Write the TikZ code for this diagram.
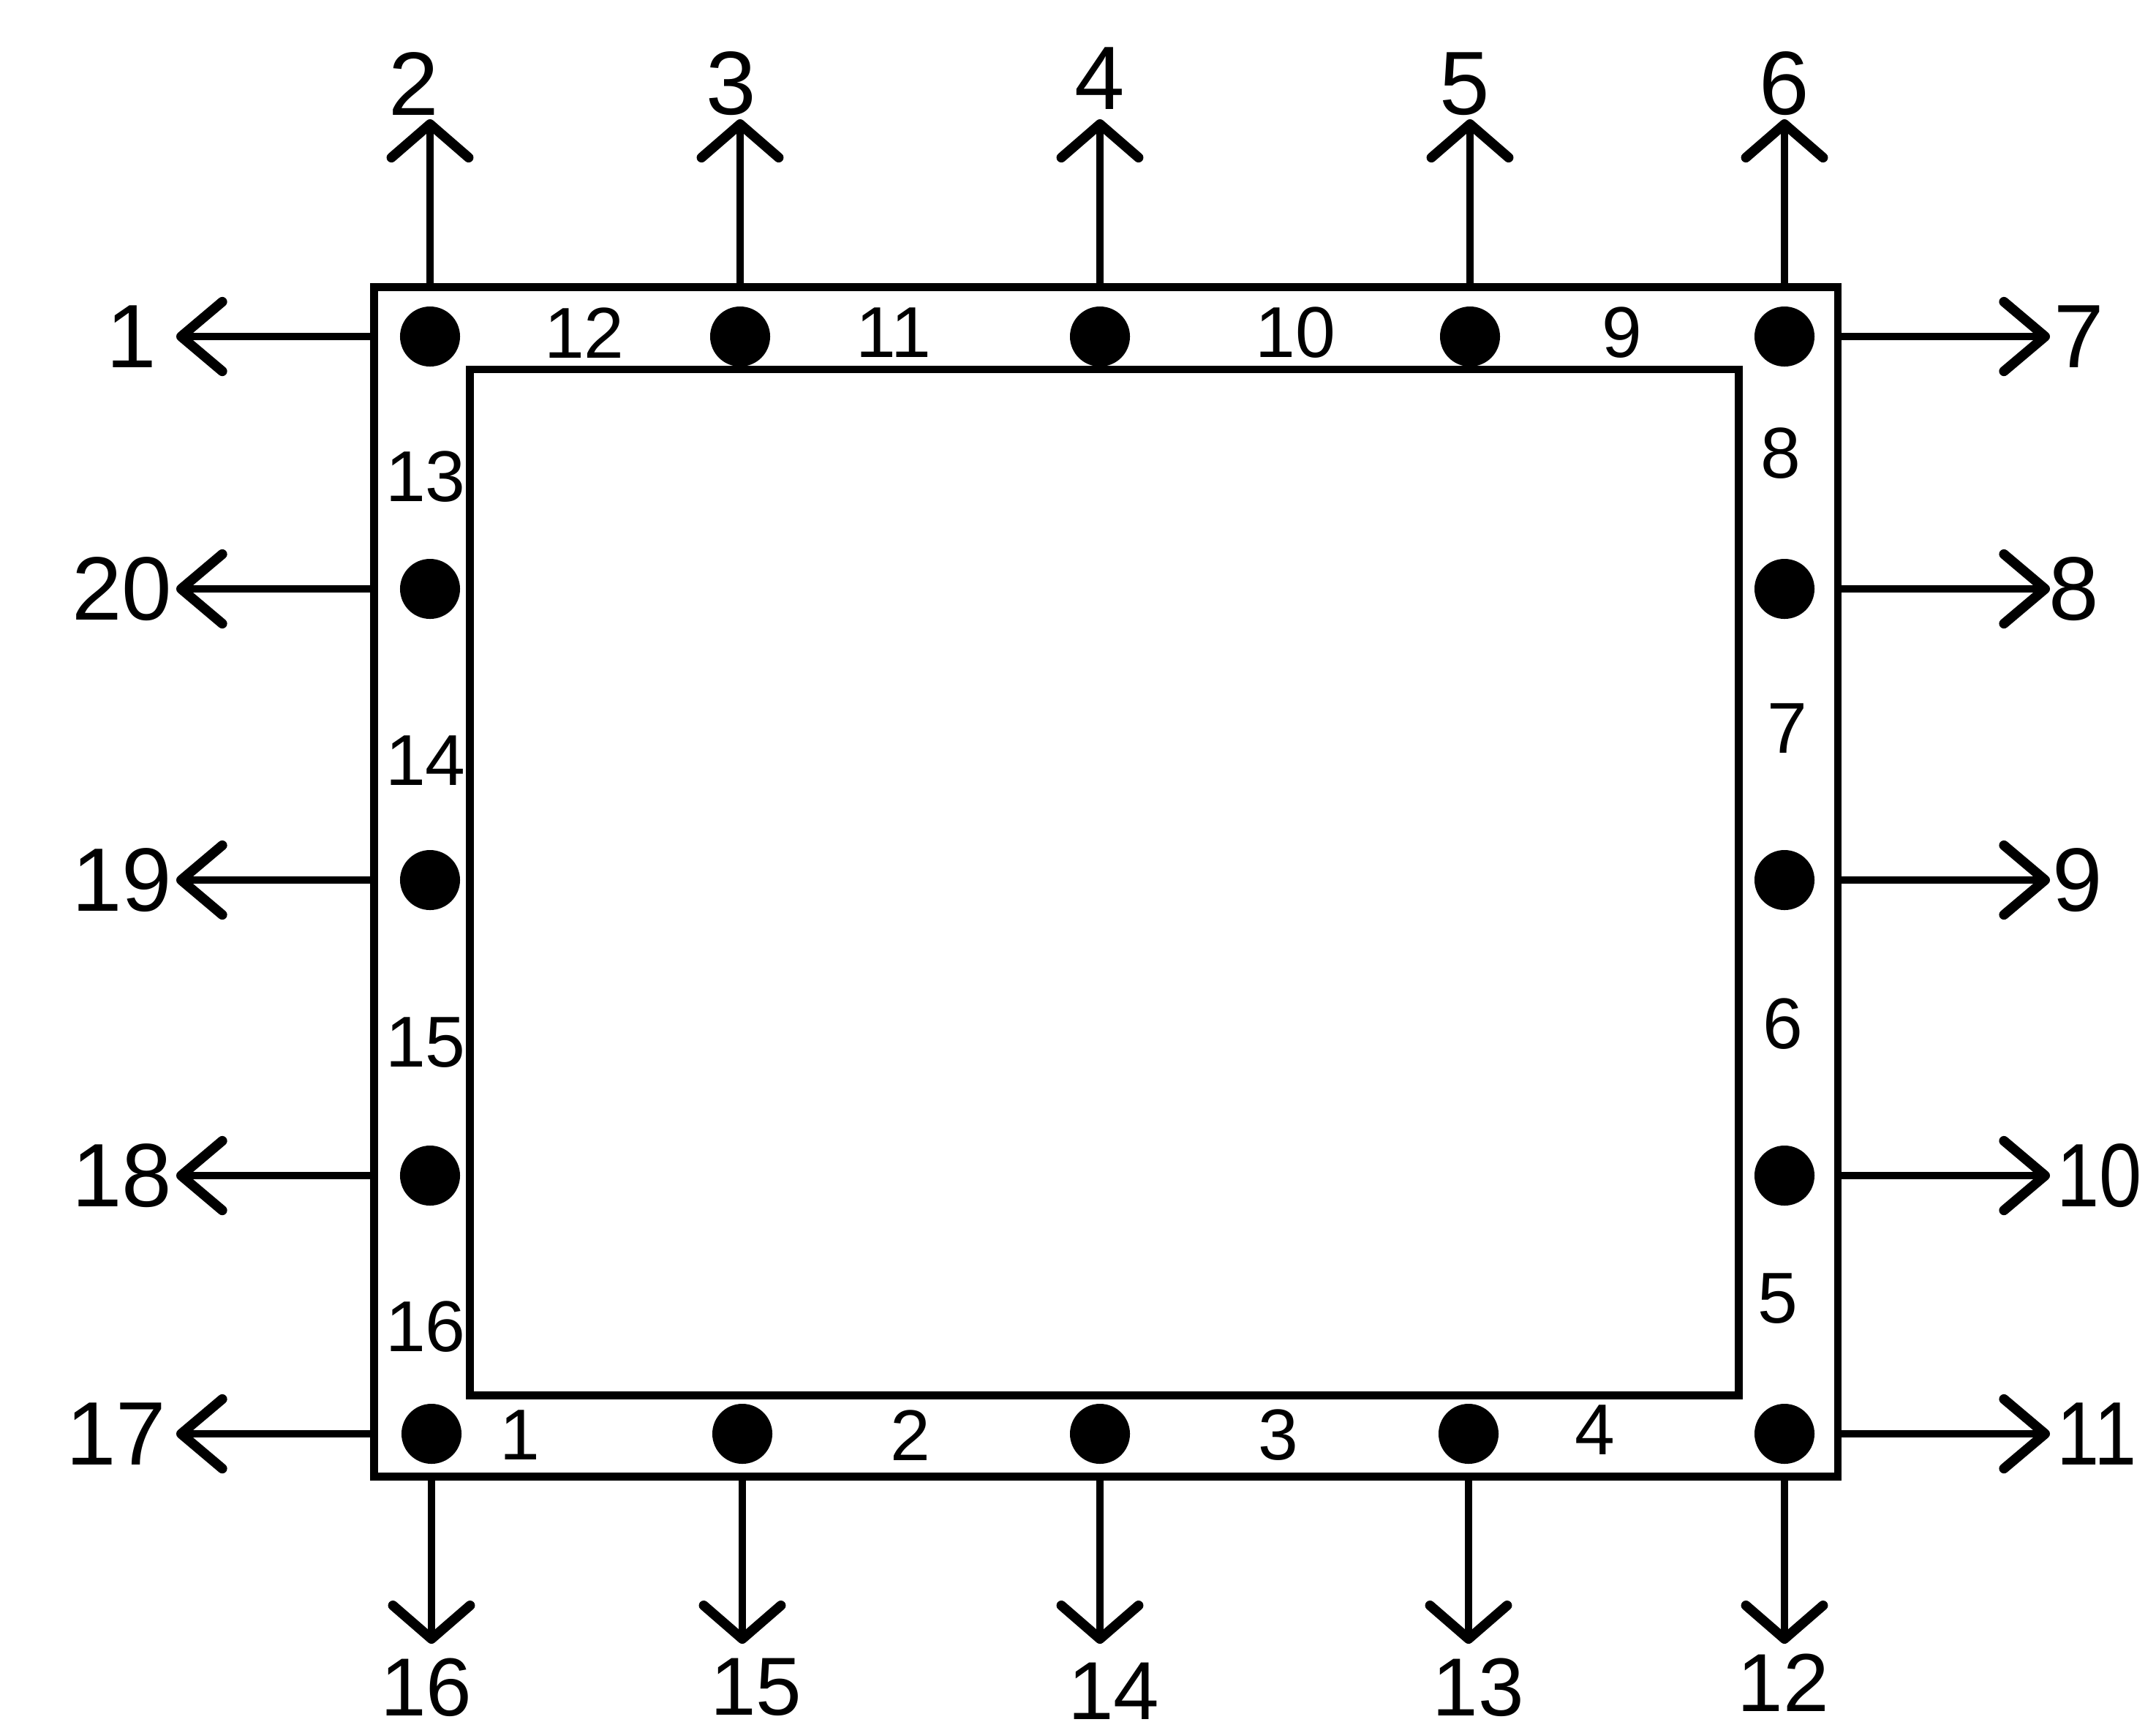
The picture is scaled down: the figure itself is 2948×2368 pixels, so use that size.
\documentclass[tikz,border=0pt]{standalone}
\usepackage{fontspec}
\setmainfont{Liberation Sans}
\usetikzlibrary{arrows.meta}
\begin{document}
\begin{tikzpicture}[x=0.01cm,y=-0.01cm,
  frameline/.style={draw,line width=2.9pt,inner sep=0pt,outer sep=0pt},
  dot/.style={circle,fill=black,inner sep=0pt,minimum size=0.82cm},
  outlbl/.style={inner sep=0pt,font=\fontsize{35}{40}\selectfont},
  botlbl/.style={inner sep=0pt,font=\fontsize{32}{36}\selectfont},
  inlbl/.style={inner sep=0pt,font=\fontsize{28}{32}\selectfont},
  varrow/.style={line width=2.6pt,-{Straight Barb[length=13pt,width=30pt,line width=3.8pt,round]}},
  harrow/.style={line width=2.6pt,-{Straight Barb[length=16pt,width=27pt,line width=3.8pt,round]}}]
\useasboundingbox (0,0) rectangle (2948,2368);
% frame
\node[frameline,minimum width=20cm,minimum height=16.25cm] (frame) at (1512,1205.5) {};
\node[frameline,minimum width=17.34cm,minimum height=14.02cm] (inner) at (1510,1206) {};
% dots
\node[dot] (T1) at (588,460) {};
\node[dot] (T2) at (1012,460) {};
\node[dot] (T3) at (1504,460) {};
\node[dot] (T4) at (2010,460) {};
\node[dot] (T5) at (2440,460) {};
\node[dot] (L2) at (588,805) {};
\node[dot] (L3) at (588,1203) {};
\node[dot] (L4) at (588,1607) {};
\node[dot] (R2) at (2440,805) {};
\node[dot] (R3) at (2440,1203) {};
\node[dot] (R4) at (2440,1607) {};
\node[dot] (B1) at (590,1960) {};
\node[dot] (B2) at (1015,1960) {};
\node[dot] (B3) at (1504,1960) {};
\node[dot] (B4) at (2008,1960) {};
\node[dot] (B5) at (2440,1960) {};
% tips
\coordinate (t1) at (241,460);
\coordinate (t2) at (588,163);
\coordinate (t3) at (1012,163);
\coordinate (t4) at (1504,163);
\coordinate (t5) at (2010,163);
\coordinate (t6) at (2440,163);
\coordinate (t7) at (2803,460);
\coordinate (t8) at (2803,805);
\coordinate (t9) at (2803,1203);
\coordinate (t10) at (2803,1607);
\coordinate (t11) at (2803,1960);
\coordinate (t12) at (2440,2247);
\coordinate (t13) at (2008,2247);
\coordinate (t14) at (1504,2247);
\coordinate (t15) at (1015,2247);
\coordinate (t16) at (590,2247);
\coordinate (t17) at (241,1960);
\coordinate (t18) at (241,1607);
\coordinate (t19) at (241,1203);
\coordinate (t20) at (241,805);
% arrows
\draw[harrow] (T1 -| frame.west) -- (t1);
\draw[varrow] (T1 |- frame.north) -- (t2);
\draw[varrow] (T2 |- frame.north) -- (t3);
\draw[varrow] (T3 |- frame.north) -- (t4);
\draw[varrow] (T4 |- frame.north) -- (t5);
\draw[varrow] (T5 |- frame.north) -- (t6);
\draw[harrow] (T5 -| frame.east) -- (t7);
\draw[harrow] (R2 -| frame.east) -- (t8);
\draw[harrow] (R3 -| frame.east) -- (t9);
\draw[harrow] (R4 -| frame.east) -- (t10);
\draw[harrow] (B5 -| frame.east) -- (t11);
\draw[varrow] (B5 |- frame.south) -- (t12);
\draw[varrow] (B4 |- frame.south) -- (t13);
\draw[varrow] (B3 |- frame.south) -- (t14);
\draw[varrow] (B2 |- frame.south) -- (t15);
\draw[varrow] (B1 |- frame.south) -- (t16);
\draw[harrow] (B1 -| frame.west) -- (t17);
\draw[harrow] (L4 -| frame.west) -- (t18);
\draw[harrow] (L3 -| frame.west) -- (t19);
\draw[harrow] (L2 -| frame.west) -- (t20);
% outer labels
\node[outlbl,anchor=east] (l1) at (215,460) {1};
\node[outlbl,anchor=south] (l2) at (566,158) {2};
\node[outlbl,anchor=south] (l3) at (1000,158) {3};
\node[outlbl,anchor=south] (l4) at (1504,150) {4};
\node[outlbl,anchor=south] (l5) at (2003,158) {5};
\node[outlbl,anchor=south] (l6) at (2440,158) {6};
\node[outlbl,anchor=west] (l7) at (2808,460) {7};
\node[outlbl,anchor=west] (l8) at (2801,805) {8};
\node[outlbl,anchor=west] (l9) at (2806,1203) {9};
\node[outlbl,anchor=west] (l10) at (2812,1607) {\scalebox{0.85}[1]{10}};
\node[outlbl,anchor=west] (l11) at (2812,1960) {\scalebox{0.85}[1]{11}};
\node[botlbl,anchor=north] (l12) at (2438,2260) {12};
\node[botlbl,anchor=north] (l13) at (2021,2266) {13};
\node[botlbl,anchor=north] (l14) at (1523,2272) {14};
\node[botlbl,anchor=north] (l15) at (1034,2266) {15};
\node[botlbl,anchor=north] (l16) at (583,2266) {16};
\node[outlbl,anchor=east] (l17) at (228,1960) {17};
\node[outlbl,anchor=east] (l18) at (236,1607) {18};
\node[outlbl,anchor=east] (l19) at (236,1203) {19};
\node[outlbl,anchor=east] (l20) at (236,805) {20};
% inner labels
\node[inlbl] (s12) at (799,455) {12};
\node[inlbl] (s11) at (1222,455) {11};
\node[inlbl] (s10) at (1771,455) {10};
\node[inlbl] (s9) at (2218,455) {9};
\node[inlbl] (s1) at (711,1962) {1};
\node[inlbl] (s2) at (1245,1962) {2};
\node[inlbl] (s3) at (1748,1962) {3};
\node[inlbl] (s4) at (2181,1955) {4};
\node[inlbl] (s13) at (582,652) {13};
\node[inlbl] (s14) at (582,1040) {14};
\node[inlbl] (s15) at (582,1425) {15};
\node[inlbl] (s16) at (582,1814) {16};
\node[inlbl] (s8) at (2435,620) {8};
\node[inlbl] (s7) at (2444,996) {7};
\node[inlbl] (s6) at (2438,1400) {6};
\node[inlbl] (s5) at (2431,1775) {5};
\end{tikzpicture}
\end{document}
